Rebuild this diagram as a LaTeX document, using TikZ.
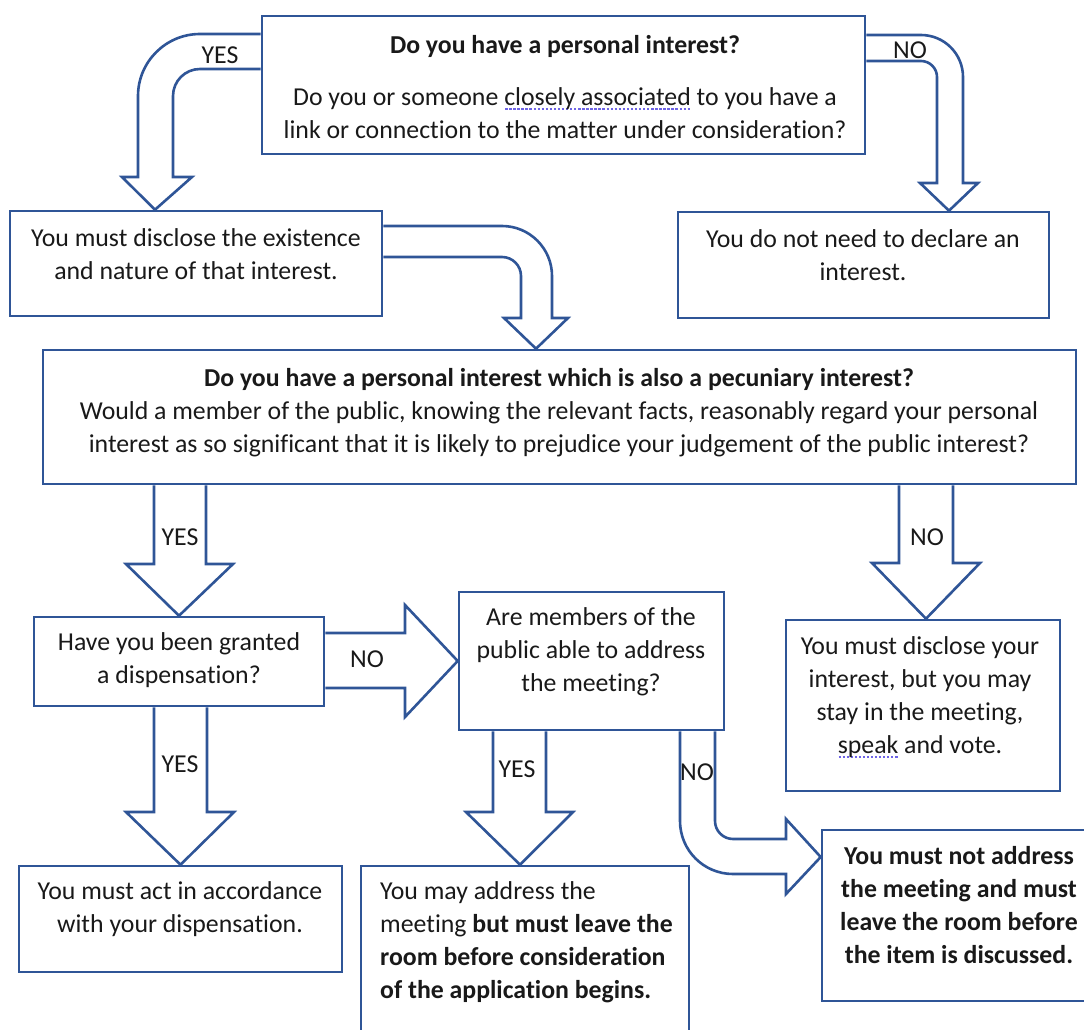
\documentclass[tikz,border=0pt]{standalone}
\usepackage{fontspec}
\setmainfont{Carlito}[Ligatures=NoCommon]
\definecolor{boxblue}{RGB}{47,85,151}
\definecolor{spellblue}{RGB}{110,100,230}
\definecolor{ink}{RGB}{25,25,25}
\newcommand{\spellchk}[1]{\setbox0\hbox{#1}\rlap{\color{spellblue}\raisebox{-4.5pt}{\hbox to \wd0{\xleaders\hbox to 4pt{\hss\rule{2.4pt}{1.8pt}\hss}\hfill}}}#1}
\tikzset{
box/.style={draw=boxblue,line width=2.6pt,inner sep=0pt},
txt/.style={align=center,inner sep=0pt,text=ink,font=\fontsize{25.8}{33}\selectfont},
lbl/.style={inner sep=0pt,text=ink,font=\fontsize{25.8}{33}\selectfont},
blk/.style={draw=boxblue,line width=2.6pt,line join=miter}
}
\begin{document}
\begin{tikzpicture}[x=1pt,y=-1pt]
\useasboundingbox (0,0) rectangle (1084,1030);
\clip (0,0) rectangle (1084,1030);
\node[box,minimum width=603,minimum height=138] (q1) at (563.5,85) {};
\node[box,minimum width=372,minimum height=105] (b2) at (196,263.5) {};
\node[box,minimum width=371,minimum height=106] (b3) at (863.5,265) {};
\node[box,minimum width=1033,minimum height=134] (q2) at (559.5,417) {};
\node[box,minimum width=290,minimum height=89] (q3) at (179,661.5) {};
\node[box,minimum width=265,minimum height=138] (q4) at (591.5,661) {};
\node[box,minimum width=274,minimum height=171] (b7) at (923,705.5) {};
\node[box,minimum width=323,minimum height=106] (b8) at (180.5,919) {};
\node[box,minimum width=328,minimum height=170] (b9) at (525,951) {};
\node[box,minimum width=276,minimum height=171] (b10) at (960,915.5) {};
\node[txt] (q1t) at (565,87) {\textbf{Do you have a personal interest?}\\[19pt]Do you or someone \spellchk{closely associated} to you have a\\link or connection to the matter under consideration?};
\node[txt] (b2t) at (196,254) {You must disclose the existence\\and nature of that interest.};
\node[txt] (b3t) at (863,255.5) {You do not need to declare an\\interest.};
\node[txt] (q2t) at (559,412.5) {\textbf{Do you have a personal interest which is also a pecuniary interest?}\\Would a member of the public, knowing the relevant facts, reasonably regard your personal\\interest as so significant that it is likely to prejudice your judgement of the public interest?};
\node[txt] (q3t) at (179,660) {Have you been granted\\a dispensation?};
\node[txt] (q4t) at (591,652) {Are members of the\\public able to address\\the meeting?};
\node[txt] (b7t) at (920,697) {You must disclose your\\interest, but you may\\stay in the meeting,\\\spellchk{speak} and vote.};
\node[txt] (b8t) at (180,909.5) {You must act in accordance\\with your dispensation.};
\node[txt,align=left,anchor=west] (b9t) at (380,942.5) {You may address the\\meeting \textbf{but must leave the}\\\textbf{room before consideration}\\\textbf{of the application begins.}};
\node[txt] (b10t) at (959,905.5) {\textbf{You must not address}\\\textbf{the meeting and must}\\\textbf{leave the room before}\\\textbf{the item is discussed.}};
\draw[blk] (q1.west |- 0,34) -- (200,34) .. controls (165.8,34) and (138,61.8) .. (138,96) -- (138,177) -- (122,177) -- (155,0 |- b2.north) -- (192,177) -- (173,177) -- (173,96) .. controls (173,81.1) and (185.1,69) .. (200,69) -- (q1.west |- 0,69);
\draw[blk] (q1.east |- 0,35) -- (921,35) .. controls (944.2,35) and (963,53.8) .. (963,77) -- (963,183) -- (978,183) -- (949,0 |- b3.north) -- (920,183) -- (937,183) -- (937,77) .. controls (937,68.2) and (929.8,61) .. (921,61) -- (q1.east |- 0,61);
\draw[blk] (b2.east |- 0,226) -- (502,226) .. controls (529.6,226) and (552,248.4) .. (552,276) -- (552,318) -- (568,318) -- (536,0 |- q2.north) -- (504,318) -- (521,318) -- (521,276) .. controls (521,265.5) and (512.5,257) .. (502,257) -- (b2.east |- 0,257);
\draw[blk] (154,0 |- q2.south) -- (154,564) -- (126,564) -- (q3.north) -- (233,564) -- (206,564) -- (206,0 |- q2.south);
\draw[blk] (899,0 |- q2.south) -- (899,563) -- (872,563) -- (926,0 |- b7.north) -- (980,563) -- (953,563) -- (953,0 |- q2.south);
\draw[blk] (q3.east |- 0,633) -- (405,633) -- (405,605) -- (q4.west) -- (405,717) -- (405,688) -- (q3.east |- 0,688);
\draw[blk] (154,0 |- q3.south) -- (154,812) -- (126,812) -- (b8.north) -- (234,812) -- (207,812) -- (207,0 |- q3.south);
\draw[blk] (493,0 |- q4.south) -- (493,812) -- (466,812) -- (520,0 |- b9.north) -- (573,812) -- (546,812) -- (546,0 |- q4.south);
\draw[blk] (680,0 |- q4.south) -- (680,821) .. controls (680,850.3) and (703.7,874) .. (733,874) -- (786,874) -- (786,894) -- (b10.west |- 0,857) -- (786,819) -- (786,839) -- (733,839) .. controls (723.1,839) and (715,830.9) .. (715,821) -- (715,0 |- q4.south);
\node[lbl] (yes1) at (220,55) {YES};
\node[lbl] (no1) at (910,50) {NO};
\node[lbl] (yes2) at (180,537) {YES};
\node[lbl] (no2) at (927,537) {NO};
\node[lbl] (no3) at (367,659) {NO};
\node[lbl] (yes3) at (180,764) {YES};
\node[lbl] (yes4) at (517,769) {YES};
\node[lbl] (no4) at (697,772) {NO};
\end{tikzpicture}
\end{document}
